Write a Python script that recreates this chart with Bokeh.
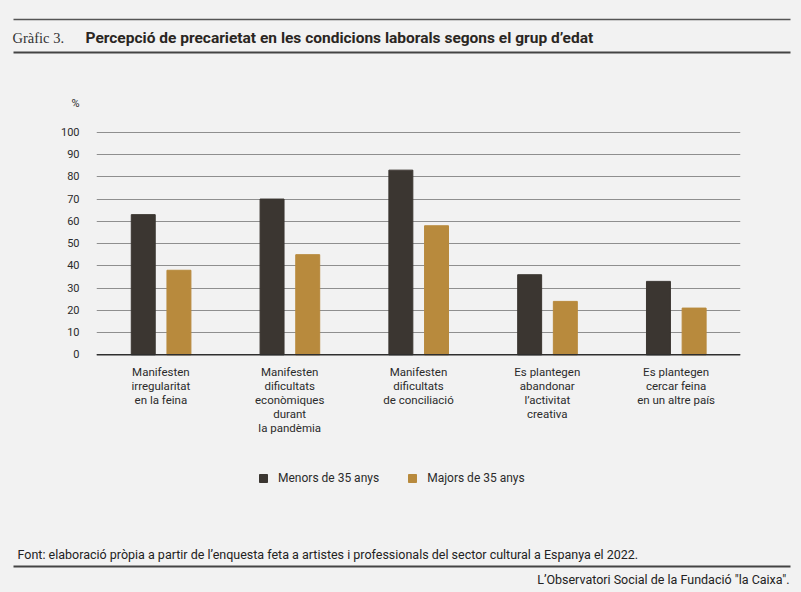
from bokeh.plotting import figure
from bokeh.layouts import column
from bokeh.models import (Range1d, FactorRange, FixedTicker, Legend, LegendItem,
                          ColumnDataSource, Span)
from bokeh.transform import dodge
from bokeh.core.properties import value
from bokeh.embed import file_html
from bokeh.resources import INLINE

# ---------------- data ----------------
categories = [
    "Manifesten\nirregularitat\nen la feina",
    "Manifesten\ndificultats\necon\u00f2miques\ndurant\nla pand\u00e8mia",
    "Manifesten\ndificultats\nde conciliaci\u00f3",
    "Es plantegen\nabandonar\nl\u2019activitat\ncreativa",
    "Es plantegen\ncercar feina\nen un altre pa\u00eds",
]
menors = [63, 70, 83, 36, 33]
majors = [38, 45, 58, 24, 21]
series_names = ["Menors de 35 anys", "Majors de 35 anys"]
y_ticks = [0, 10, 20, 30, 40, 50, 60, 70, 80, 90, 100]
unit_label = "%"

title_num = "Gr\u00e0fic 3."
title_text = "Percepci\u00f3 de precarietat en les condicions laborals segons el grup d\u2019edat"
source_text = ("Font: elaboraci\u00f3 pr\u00f2pia a partir de l\u2019enquesta feta a artistes i "
               "professionals del sector cultural a Espanya el 2022.")
credit_text = "L\u2019Observatori Social de la Fundaci\u00f3 \"la Caixa\"."

BG = "#f2f2f2"
DARK = "#3b3631"
GOLD = "#b88a3d"
TXT = "#2b2b2b"
SANS = "Roboto"
NARROW = "'Liberation Sans Narrow', Roboto"

W = 801
UNIT_POS = 113      # value-axis position of the "%" unit label
LABEL_Y = -4.8      # value-axis position of the top of the category labels


def blank_fig(h, y0, y1):
    f = figure(width=W, height=h, x_range=Range1d(0, W), y_range=Range1d(y1, y0),
               x_axis_type=None, y_axis_type=None, toolbar_location=None,
               output_backend="svg", min_border=0, min_border_left=0, min_border_right=0,
               min_border_top=0, min_border_bottom=0)
    f.background_fill_color = BG
    f.border_fill_color = BG
    f.outline_line_color = None
    f.grid.visible = False
    try:
        f.frame_align = False
    except Exception:
        pass
    return f


# ---------------- header ----------------
header = blank_fig(60, 0, 60)
header.segment(x0=[13], y0=[19], x1=[790], y1=[19], line_color="#555555", line_width=1.5)
header.segment(x0=[13], y0=[52], x1=[790], y1=[52], line_color="#444444", line_width=2)
header.text(x=[12], y=[37], text=[title_num], text_font=value("Liberation Serif"),
            text_font_size="14.5px", text_color="#333333", text_baseline="middle")
header.text(x=[85], y=[37], text=[title_text], text_font=value(SANS),
            text_font_size="15.5px", text_font_style="bold", text_color="#2a2622",
            text_baseline="middle")

# ---------------- main chart ----------------
src = ColumnDataSource(dict(cat=categories, menors=menors, majors=majors))
p = figure(width=W, height=480, x_range=FactorRange(factors=categories),
           y_range=Range1d(-65.48, 116.54), toolbar_location=None, output_backend="svg",
           x_axis_location=None,
           min_border_left=96, min_border_right=61, min_border_top=35,
           min_border_bottom=40)
p.background_fill_color = BG
p.border_fill_color = BG
p.outline_line_color = None

r1 = p.vbar(x=dodge("cat", -0.137, range=p.x_range), top="menors", bottom=0, width=0.186,
            source=src, fill_color=DARK, line_color=DARK)
r2 = p.vbar(x=dodge("cat", 0.14, range=p.x_range), top="majors", bottom=0, width=0.186,
            source=src, fill_color=GOLD, line_color=GOLD)

p.xgrid.visible = False
p.ygrid.ticker = FixedTicker(ticks=y_ticks)
p.ygrid.grid_line_color = "#8f8f8f"
p.ygrid.grid_line_width = 1
p.add_layout(Span(location=0, dimension="width", line_color="#2e2e2e", line_width=1.5))

p.yaxis.ticker = FixedTicker(ticks=y_ticks + [UNIT_POS])
p.yaxis.major_label_overrides = {UNIT_POS: unit_label}
p.yaxis.axis_line_color = None
p.yaxis.major_tick_line_color = None
p.yaxis.minor_tick_line_color = None
p.yaxis.major_tick_out = 0
p.yaxis.major_tick_in = 0
p.yaxis.major_label_standoff = 17
p.yaxis.major_label_text_font = SANS
p.yaxis.major_label_text_font_size = "11px"
p.yaxis.major_label_text_color = TXT

# category labels under the baseline
src.data["label_y"] = [LABEL_Y] * len(categories)
p.text(x="cat", y="label_y", text="cat", source=src, text_align="center",
       text_baseline="top", text_font=value(SANS), text_font_size="11.5px",
       text_color=TXT, text_line_height=0.99)

legend = Legend(items=[LegendItem(label=series_names[0], renderers=[r1]),
                       LegendItem(label=series_names[1], renderers=[r2])],
                orientation="horizontal", location=(162, 15),
                glyph_width=10, glyph_height=10, label_height=12, label_standoff=10,
                spacing=28, padding=0, margin=0, border_line_color=None,
                background_fill_alpha=0, label_text_font=SANS,
                label_text_font_size="12px", label_text_color=TXT)
p.add_layout(legend)

# ---------------- footer ----------------
footer = blank_fig(52, 540, 592)
footer.text(x=[17], y=[554], text=[source_text], text_font=value(NARROW),
            text_font_size="12.5px", text_color="#222222", text_baseline="middle")
footer.segment(x0=[13], y0=[566], x1=[790], y1=[566], line_color="#444444", line_width=2)
footer.text(x=[789], y=[579], text=[credit_text], text_font=value(NARROW),
            text_font_size="12.5px", text_color="#222222", text_baseline="middle",
            text_align="right")

layout = column(header, p, footer, spacing=0)

html = None
try:
    from bokeh.core.templates import get_env
    tmpl = get_env().from_string(
        '{% extends "file.html" %}{% block preamble %}'
        '<style>html,body{margin:0;padding:0;background:#f2f2f2;}</style>{% endblock %}')
    html = file_html(layout, INLINE, template=tmpl)
except Exception:
    html = file_html(layout, INLINE)
open("out.html", "w").write(html)
